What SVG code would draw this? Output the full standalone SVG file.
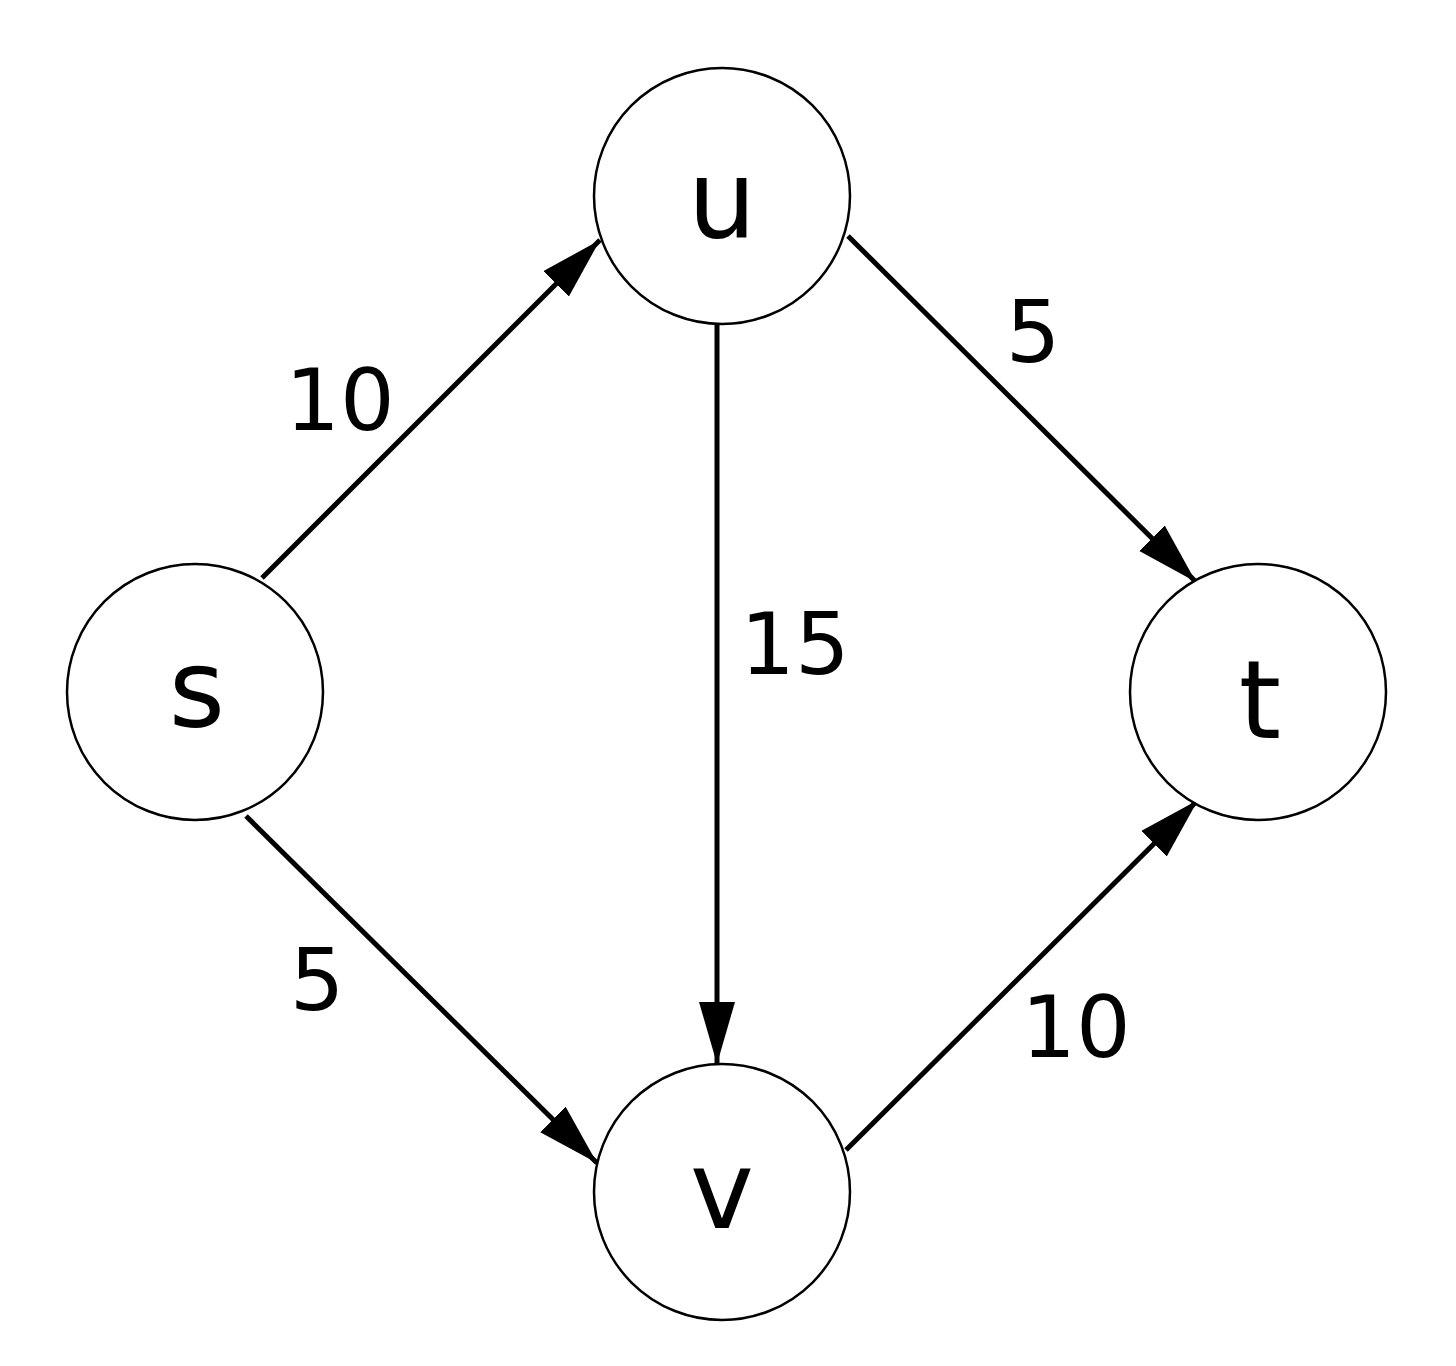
<svg xmlns="http://www.w3.org/2000/svg" width="1456" height="1366" viewBox="0 0 1456 1366">
<style>
.n{fill:#fff;stroke:#000;stroke-width:2.5}
.nl{font-family:"DejaVu Sans",sans-serif;font-size:108px;text-anchor:middle}
.el{font-family:"DejaVu Sans",sans-serif;font-size:86px;text-anchor:middle}
.e{stroke:#000;stroke-width:5;fill:none;marker-end:url(#a)}
</style>
<defs><marker id="a" markerUnits="userSpaceOnUse" markerWidth="64" markerHeight="40" refX="62" refY="18" orient="auto"><path d="M0,0 L62,18 L0,36 Z" fill="#000"/></marker></defs>
<rect width="1456" height="1366" fill="#fff"/>
<g id="edges">
<line class="e" x1="262" y1="578" x2="600" y2="240"/>
<line class="e" x1="848" y1="236" x2="1196" y2="582"/>
<line class="e" x1="717" y1="325" x2="717" y2="1064"/>
<line class="e" x1="246" y1="816" x2="597" y2="1163"/>
<line class="e" x1="846" y1="1150" x2="1198" y2="800"/>
<text class="el" x="340" y="430">10</text>
<text class="el" x="1033" y="362">5</text>
<text class="el" x="795" y="674">15</text>
<text class="el" x="317" y="1010">5</text>
<text class="el" x="1076" y="1057">10</text>
</g>
<g id="s"><circle class="n" cx="195" cy="692" r="128"/><text class="nl" x="197" y="726">s</text></g>
<g id="u"><circle class="n" cx="722" cy="196" r="128"/><text class="nl" x="722" y="237">u</text></g>
<g id="t"><circle class="n" cx="1258" cy="692" r="128"/><text class="nl" x="1260" y="738">t</text></g>
<g id="v"><circle class="n" cx="722" cy="1192" r="128"/><text class="nl" x="722" y="1228">v</text></g>
</svg>
